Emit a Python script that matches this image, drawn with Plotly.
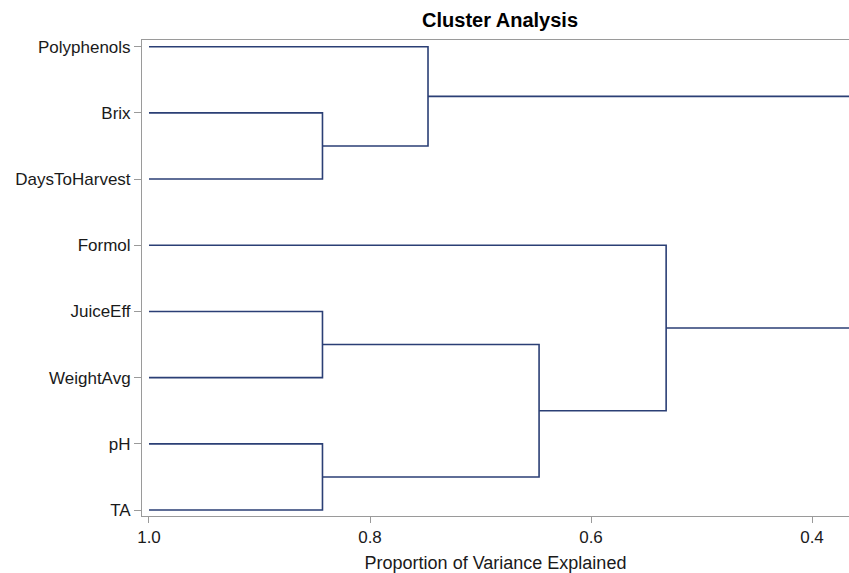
import plotly.graph_objects as go

# Leaves (top to bottom)
leaves = ["Polyphenols", "Brix", "DaysToHarvest", "Formol",
          "JuiceEff", "WeightAvg", "pH", "TA"]

# Merge steps (clusters CL1..CL7 in order of joining)
merge_a = ["Brix", "JuiceEff", "pH", "Polyphenols", "CL2", "Formol", "CL4"]
merge_b = ["DaysToHarvest", "WeightAvg", "TA", "CL1", "CL3", "CL5", "CL6"]
merge_prop = [0.843, 0.843, 0.843, 0.7475, 0.647, 0.532, 0.33]

x_ticks = [1.0, 0.8, 0.6, 0.4]

pos = {name: (1.0, i) for i, name in enumerate(leaves)}
xs, ys = [], []
for k, (a, b, h) in enumerate(zip(merge_a, merge_b, merge_prop)):
    xa, ya = pos[a]
    xb, yb = pos[b]
    xs += [xa, h, h, xb, None]
    ys += [ya, ya, yb, yb, None]
    pos[f"CL{k+1}"] = (h, (ya + yb) / 2)

line_color = "#2B3F75"
axis_color = "#9A9A9A"
text_color = "#1A1A1A"
font_family = "Liberation Sans, Arial, sans-serif"

fig = go.Figure()
fig.add_trace(go.Scatter(x=xs, y=ys, mode="lines",
                         line=dict(color=line_color, width=1.6),
                         hoverinfo="skip", showlegend=False))

fig.update_layout(
    width=849, height=573,
    margin=dict(l=142, r=0, t=40, b=57),
    paper_bgcolor="white", plot_bgcolor="white",
    font=dict(family=font_family, color=text_color),
    title=dict(text="<b>Cluster Analysis</b>", x=0.589, xref="container",
               xanchor="center", y=1 - 20 / 573, yref="container",
               yanchor="middle", font=dict(size=20, color="#000000")),
    showlegend=False,
)
fig.update_xaxes(
    range=[1.00633, 0.36652], tickvals=x_ticks,
    ticktext=[f"{v:.1f}" for v in x_ticks],
    showgrid=False, zeroline=False,
    showline=True, mirror=True, linecolor=axis_color, linewidth=1,
    ticks="outside", ticklen=6, tickcolor=axis_color,
    tickfont=dict(size=17, color=text_color),
    title=dict(text="Proportion of Variance Explained",
               font=dict(size=18, color=text_color), standoff=12),
)
fig.update_yaxes(
    range=[7.09, -0.101], tickvals=list(range(len(leaves))), ticktext=leaves,
    showgrid=False, zeroline=False,
    showline=True, linecolor=axis_color, linewidth=1,
    ticks="outside", ticklen=7, tickcolor=axis_color,
    tickfont=dict(size=17, color=text_color),
)

fig.write_html(
    "out.html",
    config={"displayModeBar": False},
    post_script="document.body.style.margin='0';document.body.style.overflow='hidden';",
)
